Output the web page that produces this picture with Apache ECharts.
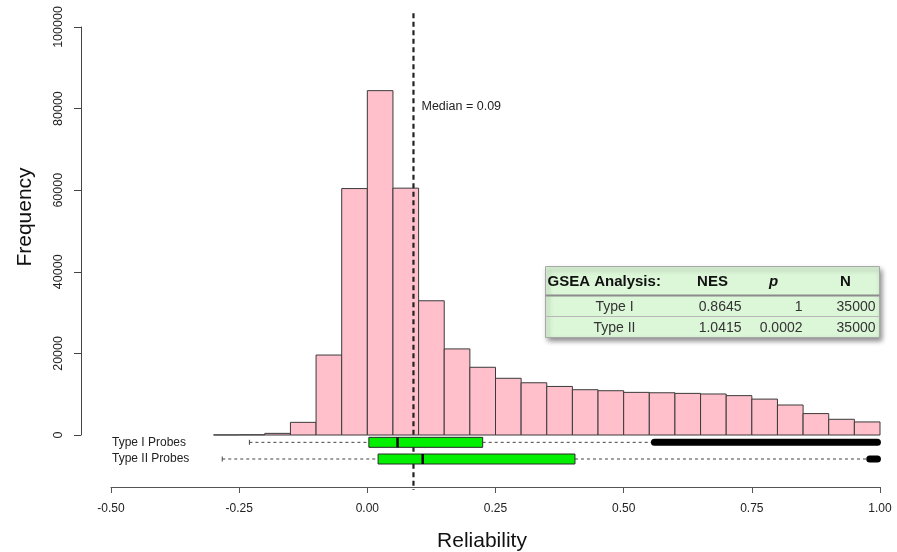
<!DOCTYPE html>
<html><head><meta charset="utf-8">
<script src="https://cdn.jsdelivr.net/npm/echarts@6/dist/echarts.min.js"></script>
<style>html,body{margin:0;padding:0;background:#fff}#c{width:897px;height:552px}</style>
</head><body><div id="c"></div>
<script>
// ---- data ----
const binEdges = [-0.30,-0.25,-0.20,-0.15,-0.10,-0.05,0.00,0.05,0.10,0.15,0.20,0.25,0.30,0.35,0.40,0.45,0.50,0.55,0.60,0.65,0.70,0.75,0.80,0.85,0.90,0.95,1.00];
const binCounts = [20,60,400,3100,19600,60400,84400,60500,32900,21100,16600,13900,12800,11900,11100,10850,10450,10350,10200,10050,9650,8800,7350,5250,3850,3200];
const probeTypes = ['Type I Probes','Type II Probes'];
// [lower whisker, Q1, median, Q3, upper whisker]
const boxStats = [[-0.230,0.003,0.059,0.225,0.555],[-0.283,0.021,0.108,0.405,0.974]];
const outlierRanges = [[0.560,0.995],[0.980,0.995]];
const medianValue = 0.09;
const medianLabel = 'Median = 0.09';
const xAxisMin = -0.5, xAxisMax = 1.0, xAxisStep = 0.25;
const yAxisMin = 0, yAxisMax = 100000, yAxisStep = 20000;
const tableHeader = ['GSEA Analysis:','NES','p','N'];
const tableRows = [['Type I','0.8645','1','35000'],['Type II','1.0415','0.0002','35000']];

// ---- chart ----
const chart = echarts.init(document.getElementById('c'), null, {renderer:'canvas'});
const FONT = '"Liberation Sans", Arial, Helvetica, sans-serif';

const histData = binCounts.map((c,i)=>[binEdges[i], binEdges[i+1], c]);
const boxData = probeTypes.map((t,i)=>[i, ...boxStats[i], ...outlierRanges[i]]);

// table graphic
const tL = 543, tT = 266, tW = 334, hH = 29, rH = 21;
const tH = hH + rH*tableRows.length;
const tableChildren = [
  {type:'rect', shape:{x:0,y:0,width:tW,height:tH}, style:{fill:'#dcf6d8', stroke:'#a8a8a8', lineWidth:1, shadowBlur:5, shadowOffsetX:2, shadowOffsetY:3, shadowColor:'rgba(0,0,0,0.45)'}},
  {type:'line', shape:{x1:0,y1:hH,x2:tW,y2:hH}, style:{stroke:'#8c8c8c', lineWidth:2}},
];
for (let r=1;r<tableRows.length;r++){
  tableChildren.push({type:'line', shape:{x1:0,y1:hH+rH*r,x2:tW,y2:hH+rH*r}, style:{stroke:'#b8b8b8', lineWidth:1}});
}
const headX = [2, 167, 228, 300];
const headAlign = ['left','center','center','center'];
tableHeader.forEach((h,j)=>{
  tableChildren.push({type:'text', x:headX[j], y:hH/2+1, style:{text:h, fill:'#111', font:(j===2?'italic ':'')+'bold 15px '+FONT, align:headAlign[j], verticalAlign:'middle'}});
});
const rowX = [69, 196, 257, 330];
const rowAlign = ['center','right','right','right'];
tableRows.forEach((row,r)=>{
  row.forEach((v,j)=>{
    tableChildren.push({type:'text', x:rowX[j], y:hH+rH*r+rH/2+1, style:{text:v, fill:'#333', font:'14px '+FONT, align:rowAlign[j], verticalAlign:'middle'}});
  });
});

const option = {
  animation:false,
  backgroundColor:'#fff',
  textStyle:{fontFamily:FONT},
  grid:[
    {left:111, top:27, width:769, height:408, containLabel:false, outerBoundsMode:'none'},
    {left:111, top:434, width:769, height:50, containLabel:false, outerBoundsMode:'none'}
  ],
  xAxis:[
    {gridIndex:0, type:'value', min:xAxisMin, max:xAxisMax, interval:xAxisStep, show:false},
    {gridIndex:1, type:'value', min:xAxisMin, max:xAxisMax, interval:xAxisStep, position:'bottom', offset:3,
     axisLine:{show:true, onZero:false, lineStyle:{color:'#555', width:1}},
     axisTick:{show:true, length:6, inside:false, lineStyle:{color:'#555'}},
     axisLabel:{fontSize:12, color:'#222', margin:16, formatter:v=>v.toFixed(2), showMinLabel:true, showMaxLabel:true},
     splitLine:{show:false},
     name:'Reliability', nameLocation:'middle', nameGap:44,
     nameTextStyle:{fontSize:21, color:'#111', padding:[0,27,0,0]}}
  ],
  yAxis:[
    {gridIndex:0, type:'value', min:yAxisMin, max:yAxisMax, interval:yAxisStep, offset:30,
     axisLine:{show:true, onZero:false, lineStyle:{color:'#444', width:1}},
     axisTick:{show:true, length:7, inside:false, lineStyle:{color:'#444'}},
     axisLabel:{fontSize:12.5, color:'#222', rotate:90, margin:16, formatter:v=>String(v)},
     splitLine:{show:false},
     name:'Frequency', nameLocation:'middle', nameGap:45, nameRotate:90,
     nameTextStyle:{fontSize:21, color:'#111', padding:[0,0,0,28]}},
    {gridIndex:1, type:'category', data:[...probeTypes, ''], inverse:true,
     axisLine:{show:false, onZero:false}, axisTick:{show:false}, splitLine:{show:false},
     axisLabel:{align:'left', margin:-1, fontSize:12, color:'#222'}}
  ],
  series:[
    {type:'custom', xAxisIndex:0, yAxisIndex:0, z:2, clip:false,
     data:histData, encode:{x:[0,1], y:2},
     renderItem:(params, api)=>{
       const p0 = api.coord([api.value(0), api.value(2)]);
       const p1 = api.coord([api.value(1), 0]);
       return {type:'rect', shape:{x:p0[0], y:p0[1], width:p1[0]-p0[0], height:p1[1]-p0[1]},
               style:{fill:'#ffc0cb', stroke:'#3a3a3a', lineWidth:1}};
     }},
    {type:'custom', xAxisIndex:0, yAxisIndex:0, z:3, clip:false,
     data:[[medianValue]], encode:{x:0},
     renderItem:(params, api)=>{
       const m = api.value(0);
       const top = api.coord([m, 103400]);
       const bot = api.coord([m, -13500]);
       const lab = api.coord([m, 80400]);
       return {type:'group', children:[
         {type:'line', shape:{x1:top[0], y1:top[1], x2:bot[0], y2:bot[1]},
          style:{stroke:'#222', lineWidth:2.2, lineDash:[5,3.5]}},
         {type:'text', x:lab[0]+8, y:lab[1], style:{text:medianLabel, fill:'#222', font:'12.5px '+FONT, align:'left', verticalAlign:'middle'}}
       ]};
     }},
    {type:'custom', xAxisIndex:1, yAxisIndex:1, z:4, clip:false,
     data:boxData, encode:{x:[1,2,3,4,5,6,7], y:0},
     renderItem:(params, api)=>{
       const i = api.value(0);
       const s = [1,2,3,4,5].map(k=>api.value(k));
       const o = [api.value(6), api.value(7)];
       const px = v => api.coord([v, i])[0];
       const yc = api.coord([s[0], i])[1];
       const h = 10, st = 2.5;
       const dash = {stroke:'#444', lineWidth:1, lineDash:[3,3]};
       return {type:'group', children:[
         {type:'line', shape:{x1:px(s[0]),y1:yc,x2:px(s[1]),y2:yc}, style:dash},
         {type:'line', shape:{x1:px(s[3]),y1:yc,x2:px(s[4]),y2:yc}, style:dash},
         {type:'line', shape:{x1:px(s[0]),y1:yc-st,x2:px(s[0]),y2:yc+st}, style:{stroke:'#444', lineWidth:1}},
         {type:'line', shape:{x1:px(o[0]),y1:yc,x2:px(o[1]),y2:yc}, style:{stroke:'#000', lineWidth:7, lineCap:'round'}},
         {type:'rect', shape:{x:px(s[1]), y:yc-h/2, width:px(s[3])-px(s[1]), height:h}, style:{fill:'#00f000', stroke:'#2a2a2a', lineWidth:1}},
         {type:'line', shape:{x1:px(s[2]),y1:yc-h/2,x2:px(s[2]),y2:yc+h/2}, style:{stroke:'#000', lineWidth:2.5}}
       ]};
     }}
  ],
  graphic:[{type:'group', left:tL, top:tT, z:10, children:tableChildren}]
};
chart.setOption(option);
</script>
</body></html>
